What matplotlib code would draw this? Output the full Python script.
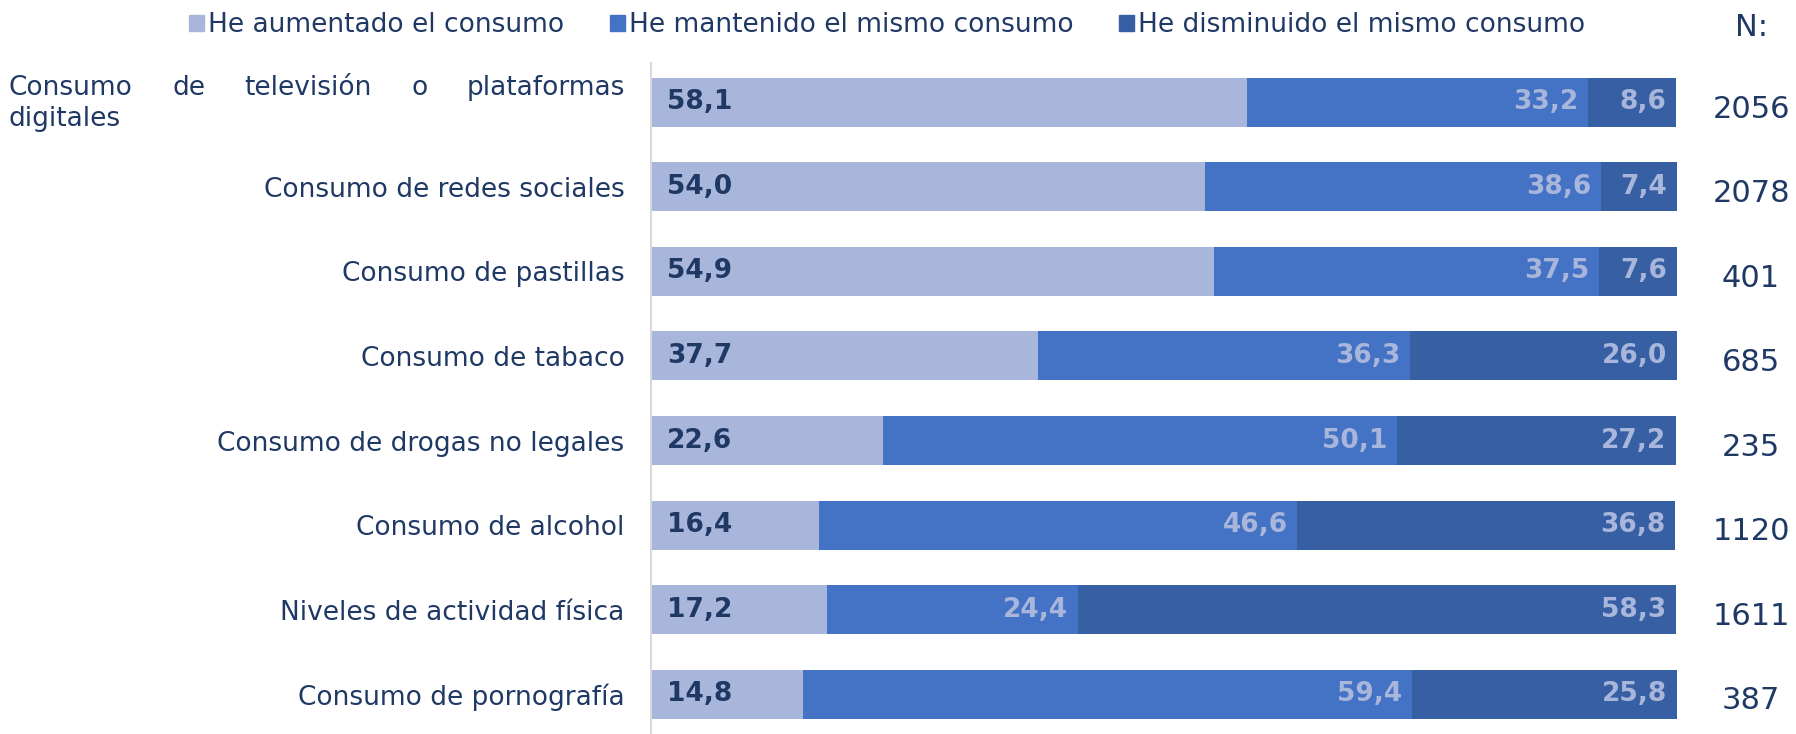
import numpy as np
from matplotlib import pyplot as plt
import matplotlib.patches as p

categories = ["Consumo de televisión o plataformas digitales",
              "Consumo de redes sociales",
              "Consumo de pastillas",
              "Consumo de tabaco",
              "Consumo de drogas no legales",
              "Consumo de alcohol",
              "Niveles de actividad física",
              "Consumo de pornografía"]
aumentado = [58.1, 54.0, 54.9, 37.7, 22.6, 16.4, 17.2, 14.8]
mantenido = [33.2, 38.6, 37.5, 36.3, 50.1, 46.6, 24.4, 59.4]
disminuido = [8.6, 7.4, 7.6, 26.0, 27.2, 36.8, 58.3, 25.8]
n_values = [2056, 2078, 401, 685, 235, 1120, 1611, 387]
series_names = ["He aumentado el consumo", "He mantenido el mismo consumo",
                "He disminuido el mismo consumo"]

colors = ["#A9B6DB", "#4472C4", "#375FA3"]
navy = "#1F3864"
W, H = 1796, 734

fig = plt.figure(figsize=(W / 100, H / 100), dpi=100)
ax = fig.add_axes([651 / W, 0, (1677 - 651) / W, 1 - 63 / H])

y = np.arange(len(categories))
left = np.zeros(len(categories))
for vals, col, name in zip([aumentado, mantenido, disminuido], colors, series_names):
    vals = np.asarray(vals)
    ax.barh(y, vals, left=left, height=0.58, color=col, label=name)
    for i, v in enumerate(vals):
        txt = "{:.1f}".format(v).replace(".", ",")
        if col == colors[0]:
            ax.annotate(txt, (0, i), xytext=(11.5, 0), textcoords="offset points",
                        ha="left", va="center", fontsize=19, fontweight="bold", color=navy)
        else:
            ax.annotate(txt, (left[i] + v, i), xytext=(-7, 0), textcoords="offset points",
                        ha="right", va="center", fontsize=19, fontweight="bold", color=colors[0])
    left += vals

ax.set_xlim(0, 100)
ax.set_ylim(7.473, -0.467)
ax.set_xticks([])
ax.set_yticks(y)
labels = [""] + categories[1:]
ax.set_yticklabels(labels, fontsize=19, color=navy)
ax.tick_params(axis="y", length=0, pad=19)
for s in ["top", "right", "bottom"]:
    ax.spines[s].set_visible(False)
ax.spines["left"].set_color("#D9D9D9")
ax.spines["left"].set_linewidth(1.5)

# justified first label
renderer = fig.canvas.get_renderer()
words = categories[0].split()
line1 = words[:-1]
texts = [fig.text(0, 1 - 88 / H, w, fontsize=19, color=navy, va="center", ha="left") for w in line1]
widths = [t.get_window_extent(renderer).width for t in texts]
x0, x1 = 9, 625
gap = (x1 - x0 - sum(widths)) / (len(texts) - 1)
pos = x0
for t, w in zip(texts, widths):
    t.set_x(pos / W)
    pos += w + gap
fig.text(x0 / W, 1 - 119 / H, words[-1], fontsize=19, color=navy, va="center", ha="left")

# N column
for i, n in enumerate(n_values):
    ax.annotate(str(n), (0.975, i), xycoords=("figure fraction", "data"),
                xytext=(0, -5), textcoords="offset points",
                ha="center", va="center", fontsize=22, color=navy, annotation_clip=False)
fig.text(0.975, 1 - 27 / H, "N:", fontsize=22, color=navy, ha="center", va="center")

patches = [p.Patch(color=c, label=l) for c, l in zip(colors, series_names)]
fig.legend(handles=patches, loc="center", bbox_to_anchor=(0.494, 1 - 25 / H), ncol=3,
           frameon=False, fontsize=19, labelcolor=navy, handlelength=0.55, handleheight=0.55,
           handletextpad=0.15, columnspacing=1.75, borderaxespad=0)

fig.savefig("out.png", dpi=100)
